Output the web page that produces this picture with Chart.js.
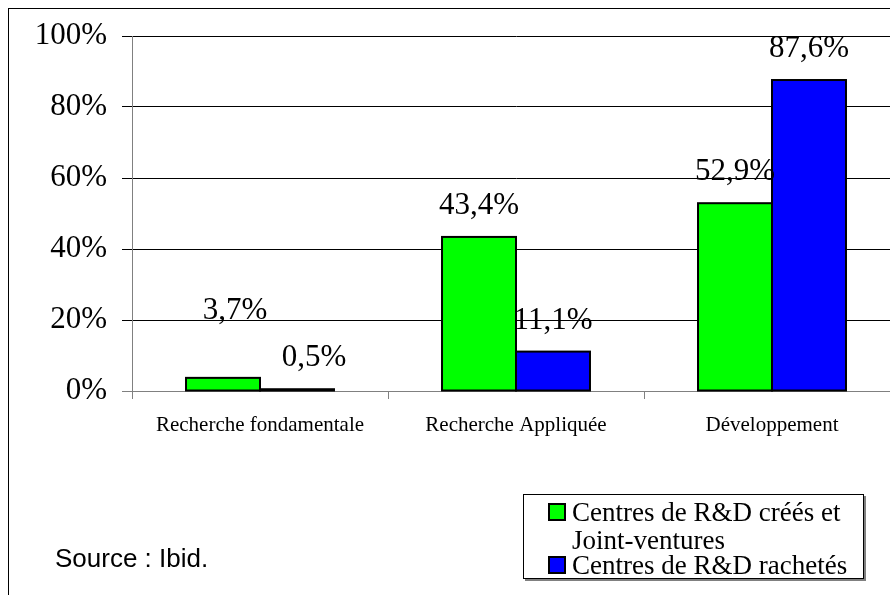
<!DOCTYPE html>
<html>
<head>
<meta charset="utf-8">
<title>Centres de R&amp;D</title>
<script src="https://cdn.jsdelivr.net/npm/chart.js@4/dist/chart.umd.min.js"></script>
<style>
  html, body { margin: 0; padding: 0; background: #fff; overflow: hidden; }
  #wrap { position: relative; width: 890px; height: 595px; overflow: hidden; }
  canvas { position: absolute; left: 0; top: 0; }
</style>
</head>
<body>
<div id="wrap">
  <canvas id="myChart" width="930" height="595"></canvas>
</div>
<script>
// Données
var categories = ['Recherche fondamentale', 'Recherche Appliquée', 'Développement'];
var crees = [3.7, 43.4, 52.9];      // Centres de R&D créés et Joint-ventures
var rachetes = [0.5, 11.1, 87.6];   // Centres de R&D rachetés
var yTicks = [0, 20, 40, 60, 80, 100];
var seriesNames = ['Centres de R&D créés et Joint-ventures', 'Centres de R&D rachetés'];

var serif = '"Liberation Serif", "Times New Roman", serif';

// décalages manuels des étiquettes (comme dans l'original)
var labelShift = { '0-0': [12, -36], '1-0': [17, 0] };

// Contour noir des barres (centré sur le bord, comme Excel) + étiquettes de valeurs
var valueLabels = {
    id: 'valueLabels',
    afterDatasetsDraw: function(chart) {
        var ctx = chart.ctx;
        ctx.save();
        ctx.strokeStyle = '#000';
        ctx.lineWidth = 2;
        chart.data.datasets.forEach(function(ds, i) {
            chart.getDatasetMeta(i).data.forEach(function(bar) {
                var left = bar.x - bar.width / 2;
                ctx.strokeRect(left, bar.y, bar.width, bar.base - bar.y);
            });
        });

        ctx.font = '31px ' + serif;
        ctx.fillStyle = '#000';
        ctx.textAlign = 'center';
        ctx.textBaseline = 'alphabetic';
        chart.data.datasets.forEach(function(ds, i) {
            chart.getDatasetMeta(i).data.forEach(function(bar, j) {
                var s = labelShift[i + '-' + j] || [0, 0];
                var txt = ds.data[j].toFixed(1).replace('.', ',') + '%';
                ctx.fillText(txt, bar.x + s[0], bar.y - 23 + s[1]);
            });
        });
        ctx.restore();
    }
};

// Cadre, légende et source
var decor = {
    id: 'decor',
    beforeDraw: function(chart) {
        var ctx = chart.ctx;
        ctx.save();
        ctx.fillStyle = '#fff';
        ctx.fillRect(0, 0, chart.width, chart.height);
        ctx.strokeStyle = '#000';
        ctx.lineWidth = 1;
        ctx.strokeRect(8.5, 8.5, 2000, 2000);
        ctx.restore();
    },
    afterDraw: function(chart) {
        var ctx = chart.ctx;
        ctx.save();
        // boîte de légende avec ombre
        ctx.fillStyle = '#808080';
        ctx.fillRect(525, 496, 341, 85);
        ctx.fillStyle = '#fff';
        ctx.fillRect(523, 494, 341, 85);
        ctx.strokeStyle = '#000';
        ctx.lineWidth = 1;
        ctx.strokeRect(523.5, 494.5, 340, 84);

        ctx.font = '27px ' + serif;
        ctx.textAlign = 'left';
        ctx.textBaseline = 'alphabetic';
        var y = 521;
        chart.data.datasets.forEach(function(ds) {
            // retour à la ligne
            var words = ds.label.split(' ');
            var lines = [], cur = '';
            words.forEach(function(w) {
                var t = cur ? cur + ' ' + w : w;
                if (ctx.measureText(t).width > 285 && cur) { lines.push(cur); cur = w; }
                else cur = t;
            });
            lines.push(cur);
            ctx.fillStyle = ds.backgroundColor;
            ctx.fillRect(549, y - 17, 16, 16);
            ctx.strokeStyle = '#000';
            ctx.lineWidth = 2;
            ctx.strokeRect(549, y - 17, 16, 16);
            ctx.fillStyle = '#000';
            lines.forEach(function(l, k) {
                ctx.fillText(l, 572, y + k * 28);
            });
            y += lines.length * 26.5;
        });

        ctx.font = '26px "Liberation Sans", Arial, sans-serif';
        ctx.fillText('Source : Ibid.', 55, 567);
        ctx.restore();
    }
};

var ctx = document.getElementById('myChart').getContext('2d');
var myChart = new Chart(ctx, {
    type: 'bar',
    data: {
        labels: categories,
        datasets: [{
            label: seriesNames[0],
            data: crees,
            backgroundColor: '#00ff00',
            borderWidth: 0
        }, {
            label: seriesNames[1],
            data: rachetes,
            backgroundColor: '#0000ff',
            borderWidth: 0
        }]
    },
    options: {
        responsive: false,
        animation: false,
        layout: { padding: { left: 0, top: 36, right: 30, bottom: 0 } },
        datasets: {
            bar: { categoryPercentage: 0.578, barPercentage: 1 }
        },
        plugins: {
            legend: { display: false },
            tooltip: { enabled: false },
            title: { display: false }
        },
        scales: {
            x: {
                afterFit: function(scale) { scale.height = 204; },
                grid: {
                    offset: true,
                    drawOnChartArea: false,
                    drawTicks: true,
                    tickLength: 8,
                    color: '#808080'
                },
                border: { color: '#808080', width: 1 },
                ticks: {
                    color: '#000',
                    padding: 14,
                    maxRotation: 0,
                    font: { family: serif, size: 21 }
                }
            },
            y: {
                min: 0,
                max: 100,
                afterFit: function(scale) { scale.width = 132; },
                afterBuildTicks: function(scale) {
                    scale.ticks = yTicks.map(function(v) { return { value: v }; });
                },
                grid: {
                    color: function(c) { return c.tick && c.tick.value === 0 ? '#808080' : '#000'; },
                    tickLength: 10
                },
                border: { color: '#808080', width: 1 },
                ticks: {
                    color: '#000',
                    padding: 15,
                    font: { family: serif, size: 31 },
                    callback: function(v) { return v + '%'; }
                }
            }
        }
    },
    plugins: [decor, valueLabels]
});
</script>
</body>
</html>
